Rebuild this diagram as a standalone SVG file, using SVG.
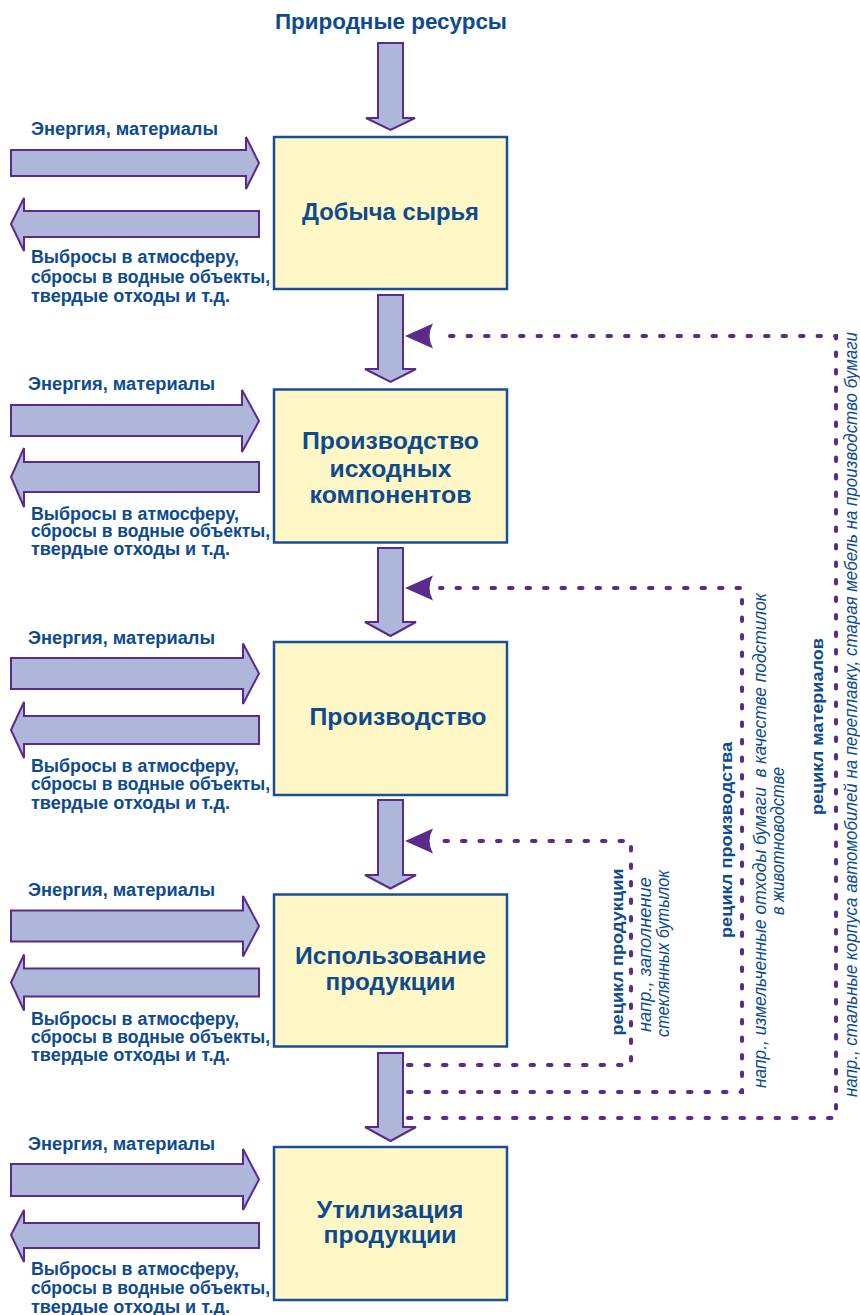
<svg xmlns="http://www.w3.org/2000/svg" width="860" height="1315" viewBox="0 0 860 1315">
<style>
.bg{fill:#ffffff}
.box{fill:#fff8c6;stroke:#1a4f94;stroke-width:2.5}
.blk{fill:#aeb6d9;stroke:#5a2b8a;stroke-width:2;stroke-linejoin:miter}
.dot{fill:none;stroke:#5a2b8a;stroke-width:4;stroke-linecap:round;stroke-dasharray:3.5 14}
.ah{fill:#5a2b8a}
.t{font-family:"Liberation Sans",Arial,sans-serif;fill:#0d4a8e}
.title{font-size:22.5px;font-weight:bold;text-anchor:middle}
.lbl{font-size:23px;font-weight:bold;text-anchor:middle}
.side{font-size:17.5px;font-weight:bold}
.rb{font-size:17px;font-weight:bold;text-anchor:middle}
.ri{font-size:17.5px;font-style:italic;text-anchor:middle}
</style>
<rect class="bg" x="0" y="0" width="860" height="1315"/>

<g id="title">
<text class="t title" x="391" y="29" textLength="232" lengthAdjust="spacingAndGlyphs">Природные ресурсы</text>
</g>

<g id="connectors">
<path class="blk" d="M378,43 H403 V118 H415 L390.5,130 L366,118 H378 Z"/>
<path class="blk" d="M378,295 H403 V369 H416 L390.5,382 L365,369 H378 Z"/>
<path class="blk" d="M378,548 H403 V622 H416 L390.5,636 L365,622 H378 Z"/>
<path class="blk" d="M378,800 H403 V875 H416 L390.5,888.5 L365,875 H378 Z"/>
<path class="blk" d="M378,1053 H403 V1127 H416 L390.5,1141 L365,1127 H378 Z"/>

<path class="blk" d="M11,150 H246 V137 L259,163 L246,189 V176 H11 Z"/>
<path class="blk" d="M259,211 H24 V198 L11,224 L24,251 V237 H259 Z"/>
<path class="blk" d="M11,405 H242 V390 L259,421 L242,452 V436 H11 Z"/>
<path class="blk" d="M259,462 H24 V448 L11,477 L24,507 V492 H259 Z"/>
<path class="blk" d="M11,658 H243 V643.5 L259,673.5 L243,704 V689 H11 Z"/>
<path class="blk" d="M259,716 H24 V702 L11,730 L24,758 V744 H259 Z"/>
<path class="blk" d="M11,910.5 H243 V896 L259,926 L243,956.5 V941.5 H11 Z"/>
<path class="blk" d="M259,968.5 H24 V954.5 L11,982.5 L24,1010.5 V996.5 H259 Z"/>
<path class="blk" d="M11,1164 H243 V1149 L259,1179.5 L243,1210 V1196 H11 Z"/>
<path class="blk" d="M259,1223 H24 V1210 L11,1235 L24,1262 V1248 H259 Z"/>

<path class="dot" d="M408,1118 H836 V336 H440"/>
<path class="ah" d="M405,336 L433,323.5 Q426,336 433,348.5 Z"/>
<path class="dot" d="M408,1092 H742 V588 H440"/>
<path class="ah" d="M405,588 L433,575.5 Q426,588 433,600.5 Z"/>
<path class="dot" d="M408,1065 H631 V841 H440"/>
<path class="ah" d="M405,841 L433,828.5 Q426,841 433,853.5 Z"/>
</g>

<g id="node-dobycha">
<rect class="box" x="274" y="137" width="233" height="152"/>
<text class="t lbl" x="390.5" y="220" textLength="177" lengthAdjust="spacingAndGlyphs">Добыча сырья</text>
</g>
<g id="node-komponenty">
<rect class="box" x="274" y="389.5" width="233" height="153"/>
<text class="t lbl" x="390.5" y="449" textLength="177" lengthAdjust="spacingAndGlyphs">Производство</text>
<text class="t lbl" x="390.5" y="476.5" textLength="122" lengthAdjust="spacingAndGlyphs">исходных</text>
<text class="t lbl" x="390.5" y="503" textLength="162" lengthAdjust="spacingAndGlyphs">компонентов</text>
</g>
<g id="node-proizvodstvo">
<rect class="box" x="274" y="642" width="233" height="153"/>
<text class="t lbl" x="398" y="725" textLength="177" lengthAdjust="spacingAndGlyphs">Производство</text>
</g>
<g id="node-ispolzovanie">
<rect class="box" x="274" y="894.5" width="233" height="152"/>
<text class="t lbl" x="390.5" y="964" textLength="191" lengthAdjust="spacingAndGlyphs">Использование</text>
<text class="t lbl" x="390.5" y="989.5" textLength="130" lengthAdjust="spacingAndGlyphs">продукции</text>
</g>
<g id="node-utilizatsiya">
<rect class="box" x="274" y="1147" width="233" height="153"/>
<text class="t lbl" x="390" y="1217.5" textLength="147" lengthAdjust="spacingAndGlyphs">Утилизация</text>
<text class="t lbl" x="390" y="1243" textLength="133" lengthAdjust="spacingAndGlyphs">продукции</text>
</g>

<g id="side-labels">
<text class="t side" x="31" y="135" textLength="187" lengthAdjust="spacingAndGlyphs">Энергия, материалы</text>
<text class="t side" x="31" y="263" textLength="208" lengthAdjust="spacingAndGlyphs">Выбросы в атмосферу,</text>
<text class="t side" x="31" y="282.5" textLength="239" lengthAdjust="spacingAndGlyphs">сбросы в водные объекты,</text>
<text class="t side" x="31" y="301.5" textLength="199" lengthAdjust="spacingAndGlyphs">твердые отходы и т.д.</text>

<text class="t side" x="28" y="390" textLength="187" lengthAdjust="spacingAndGlyphs">Энергия, материалы</text>
<text class="t side" x="31" y="519.5" textLength="208" lengthAdjust="spacingAndGlyphs">Выбросы в атмосферу,</text>
<text class="t side" x="31" y="537" textLength="239" lengthAdjust="spacingAndGlyphs">сбросы в водные объекты,</text>
<text class="t side" x="31" y="555" textLength="199" lengthAdjust="spacingAndGlyphs">твердые отходы и т.д.</text>

<text class="t side" x="28" y="643.5" textLength="187" lengthAdjust="spacingAndGlyphs">Энергия, материалы</text>
<text class="t side" x="31" y="772" textLength="208" lengthAdjust="spacingAndGlyphs">Выбросы в атмосферу,</text>
<text class="t side" x="31" y="790" textLength="239" lengthAdjust="spacingAndGlyphs">сбросы в водные объекты,</text>
<text class="t side" x="31" y="808.5" textLength="199" lengthAdjust="spacingAndGlyphs">твердые отходы и т.д.</text>

<text class="t side" x="28" y="896" textLength="187" lengthAdjust="spacingAndGlyphs">Энергия, материалы</text>
<text class="t side" x="31" y="1024.5" textLength="208" lengthAdjust="spacingAndGlyphs">Выбросы в атмосферу,</text>
<text class="t side" x="31" y="1042.5" textLength="239" lengthAdjust="spacingAndGlyphs">сбросы в водные объекты,</text>
<text class="t side" x="31" y="1061" textLength="199" lengthAdjust="spacingAndGlyphs">твердые отходы и т.д.</text>

<text class="t side" x="28" y="1150" textLength="187" lengthAdjust="spacingAndGlyphs">Энергия, материалы</text>
<text class="t side" x="31" y="1275" textLength="208" lengthAdjust="spacingAndGlyphs">Выбросы в атмосферу,</text>
<text class="t side" x="31" y="1294" textLength="239" lengthAdjust="spacingAndGlyphs">сбросы в водные объекты,</text>
<text class="t side" x="31" y="1313" textLength="199" lengthAdjust="spacingAndGlyphs">твердые отходы и т.д.</text>
</g>

<g id="recycle-labels">
<text class="t rb" transform="translate(623,952) rotate(-90)" textLength="167" lengthAdjust="spacingAndGlyphs">рецикл продукции</text>
<text class="t ri" transform="translate(650.5,954.5) rotate(-90)" textLength="155" lengthAdjust="spacingAndGlyphs">напр., заполнение</text>
<text class="t ri" transform="translate(669,953.5) rotate(-90)" textLength="167" lengthAdjust="spacingAndGlyphs">стеклянных бутылок</text>

<text class="t rb" transform="translate(731.5,840) rotate(-90)" textLength="196" lengthAdjust="spacingAndGlyphs">рецикл производства</text>
<text class="t ri" transform="translate(765.5,840.5) rotate(-90)" textLength="495" lengthAdjust="spacingAndGlyphs" xml:space="preserve">напр., измельченные отходы бумаги  в качестве подстилок</text>
<text class="t ri" transform="translate(784,841) rotate(-90)" textLength="148" lengthAdjust="spacingAndGlyphs">в животноводстве</text>

<text class="t rb" transform="translate(823,726.5) rotate(-90)" textLength="177" lengthAdjust="spacingAndGlyphs">рецикл материалов</text>
<text class="t ri" transform="translate(857,714.5) rotate(-90)" textLength="765" lengthAdjust="spacingAndGlyphs">напр., стальные корпуса автомобилей на переплавку, старая мебель на производство бумаги</text>
</g>
</svg>
